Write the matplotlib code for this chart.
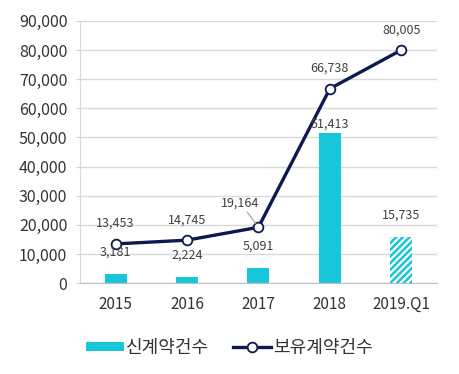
import numpy as np
import matplotlib.pyplot as plt

plt.rcParams['font.family'] = ['Noto Sans CJK KR', 'DejaVu Sans']
plt.rcParams['hatch.linewidth'] = 1.8

# 데이터
years = ['2015', '2016', '2017', '2018', '2019.Q1']
new_contracts = [3181, 2224, 5091, 51413, 15735]
held_contracts = [13453, 14745, 19164, 66738, 80005]
yticks = np.arange(0, 90001, 10000)

bar_color = '#17C6D9'
line_color = '#0C1A50'
text_color = '#404040'

fig = plt.figure(figsize=(4.59, 3.74), dpi=100)
ax = fig.add_axes([0.174, 0.243, 0.778, 0.701])

x = np.arange(len(years))
bars = ax.bar(x[:-1], new_contracts[:-1], width=0.31, color=bar_color,
              label='신계약건수', zorder=2)
ax.bar(x[-1], new_contracts[-1], width=0.31, color='white', edgecolor=bar_color,
       hatch='/////', linewidth=0, zorder=2)
line, = ax.plot(x, held_contracts, color=line_color, linewidth=2.4, marker='o',
                markersize=7, markerfacecolor='white', markeredgecolor=line_color,
                markeredgewidth=1.3, label='보유계약건수', zorder=3)

# 라벨
for i, v in enumerate(new_contracts):
    dy = 2 if i == 3 else 11
    ax.annotate(f'{v:,}', (x[i], v), xytext=(0, dy), textcoords='offset points',
                ha='center', va='bottom', fontsize=9, color=text_color, zorder=4)
for i, v in enumerate(held_contracts):
    if i == 2:
        ax.annotate(f'{v:,}', (x[i], v), xytext=(-13, 13), textcoords='offset points',
                    ha='center', va='bottom', fontsize=9, color=text_color,
                    arrowprops=dict(arrowstyle='-', color='#A0A0A0', lw=0.8,
                                    shrinkA=0, shrinkB=3))
    else:
        ax.annotate(f'{v:,}', (x[i], v), xytext=(0, 10), textcoords='offset points',
                    ha='center', va='bottom', fontsize=9, color=text_color)

ax.set_xlim(-0.5, 4.5)
ax.set_ylim(0, 90000)
ax.set_yticks(yticks)
ax.set_yticklabels([f'{v:,}' for v in yticks])
ax.set_xticks(x)
ax.set_xticklabels(years)
ax.tick_params(axis='y', labelsize=11.5, colors='#D0D0D0', labelcolor='#333333',
               length=3, pad=6)
ax.tick_params(axis='x', labelsize=11, labelcolor='#333333', length=0, pad=9)
ax.grid(axis='y', color='#D9D9D9', linewidth=1, zorder=0)
ax.set_axisbelow(True)
for s in ['top', 'right']:
    ax.spines[s].set_visible(False)
ax.spines['left'].set_color('#D9D9D9')
ax.spines['bottom'].set_color('#BFBFBF')

fig.legend([bars, line], ['신계약건수', '보유계약건수'], loc='center',
           bbox_to_anchor=(0.5, 0.07), ncol=2, frameon=False, fontsize=13,
           handlelength=2.1, handleheight=0.45, handletextpad=0.15,
           columnspacing=1.3, labelcolor='#333333')

plt.savefig('out.png', dpi=100)
